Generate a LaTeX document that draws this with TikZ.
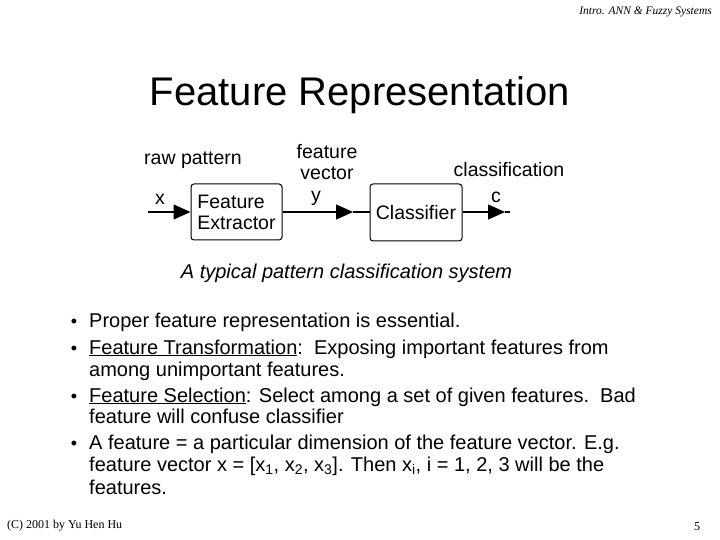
\documentclass[tikz,border=0pt]{standalone}
\usepackage{fontspec}
\setmainfont{Liberation Sans}
\newfontfamily\timesf{Liberation Serif}
\usetikzlibrary{arrows.meta}
\tikzset{
  blk/.style={draw, rounded corners=3bp, line width=1bp, inner sep=0pt, font=\fontsize{19.5bp}{21bp}\selectfont},
  lbl/.style={inner sep=0pt, font=\fontsize{19.5bp}{21bp}\selectfont},
  conn/.style={line width=1.2bp},
  tipa/.style={conn, -{Triangle[length=17bp,width=15bp]}},
  bul/.style={inner sep=0pt, anchor=base, font=\fontsize{18bp}{22bp}\selectfont},
  itemline/.style={inner sep=0pt, anchor=base west, font=\fontsize{20bp}{22.5bp}\selectfont}
}
\begin{document}
\begin{tikzpicture}[x=1bp,y=-1bp]
\useasboundingbox (0,0) rectangle (720,540);
% header
\node[inner sep=0pt, anchor=east, font=\timesf\itshape\fontsize{11.5bp}{13bp}\selectfont] (hdr) at (712,12) {Intro. ANN \& Fuzzy Systems};
% title
\node[inner sep=0pt, font=\fontsize{40bp}{44bp}\selectfont] (title) at (360,95) {Feature Representation};
% diagram
\node[blk, minimum width=91bp, minimum height=56bp, align=left] (fe) at (236.5,212) {Feature\\Extractor};
\node[blk, minimum width=92bp, minimum height=57bp] (cl) at (416,212.5) {Classifier};
\coordinate (in) at (148,212);
\coordinate (t2) at (353,212);
\coordinate (t3) at (505,212);
\coordinate (out) at (510,212);
\draw[tipa] (in) -- (fe.west |- in);
\draw[tipa] (fe.east |- in) -- (t2);
\draw[conn] (t2) -- (cl.west |- in);
\draw[tipa] (cl.east |- in) -- (t3);
\draw[conn] (t3) -- (out);
\node[lbl] (raw) at (193,160) {raw pattern};
\node[lbl, align=center] (fv) at (327,162.5) {feature\\vector};
\node[lbl] (cls) at (509,170) {classification};
\node[lbl] (lx) at (160,199) {x};
\node[lbl] (ly) at (316,198) {y};
\node[lbl] (lc) at (496,197) {c};
% caption
\node[inner sep=0pt, font=\itshape\fontsize{20bp}{22bp}\selectfont] (cap) at (346.5,273) {A typical pattern classification system};
% bullets
\node[bul] (b1) at (74,327) {•};
\node[itemline] (i1a) at (89,327) {Proper feature representation is essential.};
\node[bul] (b2) at (74,354) {•};
\node[itemline] (i2a) at (89,354) {\underline{Feature Transformation}:\ \ Exposing important features from};
\node[itemline] (i2b) at (89,376) {among unimportant features.};
\node[bul] (b3) at (74,402) {•};
\node[itemline] (i3a) at (89,402) {\underline{Feature Selection}: Select among a set of given features.\ \ Bad};
\node[itemline] (i3b) at (89,423) {feature will confuse classifier};
\node[bul] (b4) at (74,449) {•};
\node[itemline] (i4a) at (89,449) {A feature = a particular dimension of the feature vector. E.g.};
\node[itemline] (i4b) at (89,471) {feature vector x = [x\textsubscript{1}, x\textsubscript{2}, x\textsubscript{3}]. Then x\textsubscript{i}, i = 1, 2, 3 will be the};
\node[itemline] (i4c) at (89,494) {features.};
% footer
\node[inner sep=0pt, anchor=west, font=\timesf\fontsize{12bp}{14bp}\selectfont] (foot) at (7,526) {(C) 2001 by Yu Hen Hu};
\node[inner sep=0pt, font=\timesf\fontsize{12bp}{14bp}\selectfont] (pg) at (697,527) {5};
\end{tikzpicture}
\end{document}
